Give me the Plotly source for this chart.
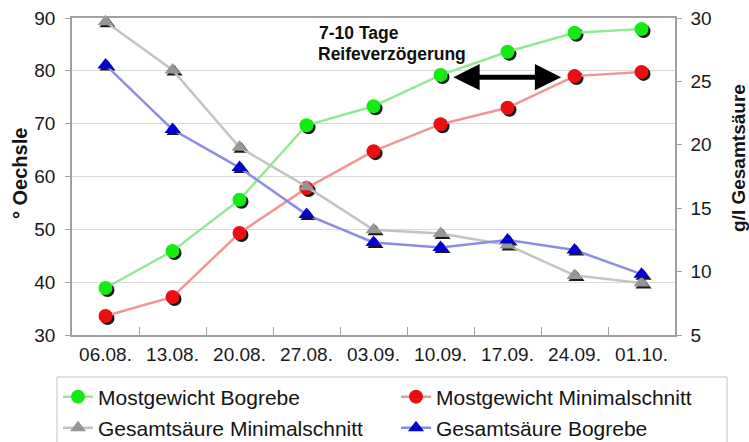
import plotly.graph_objects as go

# Sampling dates (category axis)
dates = ["06.08.", "13.08.", "20.08.", "27.08.", "03.09.", "10.09.", "17.09.", "24.09.", "01.10."]

# Must weight in degrees Oechsle (left axis)
mostgewicht_bogrebe = [38.9, 45.9, 55.6, 69.7, 73.3, 79.2, 83.6, 87.2, 87.9]
mostgewicht_minimalschnitt = [33.6, 37.2, 49.3, 57.8, 64.8, 69.9, 73.0, 79.0, 79.8]

# Total acidity in g/l (right axis)
gesamtsaeure_minimalschnitt = [29.7, 25.9, 19.8, 16.7, 13.3, 13.0, 12.1, 9.7, 9.1]
gesamtsaeure_bogrebe = [26.3, 21.2, 18.2, 14.5, 12.3, 11.9, 12.5, 11.7, 9.8]

oechsle_ticks = [30, 40, 50, 60, 70, 80, 90]
saeure_ticks = [5, 10, 15, 20, 25, 30]

# Page and plot-area geometry (pixels)
W, H = 749, 442
L, T, R, B = 72, 18, 74, 107
PW, PH = W - L - R, H - T - B
SHADOW = 2  # marker drop-shadow offset in px

FONT = "Liberation Sans, Arial, sans-serif"
AXIS_GREY = "rgb(160,160,160)"
GRID_GREY = "rgb(218,218,218)"


def px(x):
    return (x - L) / PW


def py(y):
    return (T + PH - y) / PH


x_range = [-0.5, len(dates) - 0.5]
y_left = [30, 90]
y_right = [5, 30]

# ranges for the shadow layer, shifted so marks land SHADOW px right/down
x_unit = (x_range[1] - x_range[0]) / PW
yl_unit = (y_left[1] - y_left[0]) / PH
yr_unit = (y_right[1] - y_right[0]) / PH
x_shadow = [x_range[0] - SHADOW * x_unit, x_range[1] - SHADOW * x_unit]
yl_shadow = [y_left[0] + SHADOW * yl_unit, y_left[1] + SHADOW * yl_unit]
yr_shadow = [y_right[0] + SHADOW * yr_unit, y_right[1] + SHADOW * yr_unit]

series = [
    # name, values, side, symbol, marker colour, line colour, legend slot (x, y px)
    ("Mostgewicht Bogrebe", mostgewicht_bogrebe, "left", "circle",
     "rgb(20,235,20)", "rgb(150,232,150)", "legend", (58, 397)),
    ("Mostgewicht Minimalschnitt", mostgewicht_minimalschnitt, "left", "circle",
     "rgb(235,15,15)", "rgb(240,150,150)", "legend2", (396, 397)),
    ("Gesamtsäure Minimalschnitt", gesamtsaeure_minimalschnitt, "right", "triangle-up",
     "rgb(150,150,150)", "rgb(195,195,195)", "legend3", (58, 428)),
    ("Gesamtsäure Bogrebe", gesamtsaeure_bogrebe, "right", "triangle-up",
     "rgb(0,0,210)", "rgb(140,140,230)", "legend4", (396, 428)),
]

fig = go.Figure()

# drop shadows (drawn first, underneath)
for name, vals, side, sym, mcol, lcol, leg, pos in series:
    fig.add_trace(go.Scatter(
        x=dates, y=vals, mode="markers", xaxis="x",
        yaxis="y" if side == "left" else "y4",
        marker=dict(symbol=sym, size=14, color="rgba(0,0,0,0.9)", line=dict(width=0)),
        showlegend=False, hoverinfo="skip", cliponaxis=False,
    ))

# data series
for name, vals, side, sym, mcol, lcol, leg, pos in series:
    fig.add_trace(go.Scatter(
        x=dates, y=vals, name=name, mode="lines+markers", xaxis="x2",
        yaxis="y2" if side == "left" else "y3",
        line=dict(color=lcol, width=2.5),
        marker=dict(symbol=sym, size=14, color=mcol, line=dict(width=0)),
        legend=leg, cliponaxis=False,
    ))

tickfont = dict(family=FONT, size=19, color="rgb(25,25,25)")
legend_font = dict(family=FONT, size=21, color="rgb(20,20,20)")

layout_legends = {}
for name, vals, side, sym, mcol, lcol, leg, pos in series:
    layout_legends[leg] = dict(
        orientation="h", x=px(pos[0]), y=py(pos[1]), xanchor="left", yanchor="middle",
        itemwidth=30, font=legend_font, bgcolor="rgba(0,0,0,0)", borderwidth=0,
    )

fig.update_layout(
    width=W, height=H,
    margin=dict(l=L, r=R, t=T, b=B, autoexpand=False),
    paper_bgcolor="white", plot_bgcolor="white",
    font=dict(family=FONT, color="rgb(20,20,20)"),
    # shadow layer axes (hidden)
    xaxis=dict(type="category", categoryarray=dates, range=x_shadow, visible=False),
    yaxis=dict(range=yl_shadow, visible=False),
    yaxis4=dict(range=yr_shadow, visible=False, overlaying="y", anchor="x"),
    # visible axes
    xaxis2=dict(
        type="category", categoryarray=dates, range=x_range, overlaying="x", anchor="y2",
        showline=True, linecolor=AXIS_GREY, linewidth=1.5, mirror=True,
        ticks="inside", tickson="boundaries", ticklen=8, tickcolor=AXIS_GREY, tickwidth=1,
        showgrid=False, tickfont=tickfont, ticklabelstandoff=1,
    ),
    yaxis2=dict(
        range=y_left, tickvals=oechsle_ticks, overlaying="y", anchor="x2",
        showline=True, linecolor=AXIS_GREY, linewidth=1.5,
        ticks="outside", ticklen=5, tickcolor=AXIS_GREY,
        showgrid=True, gridcolor=GRID_GREY, gridwidth=1, zeroline=False,
        tickfont=tickfont, ticklabelstandoff=6,
    ),
    yaxis3=dict(
        range=y_right, tickvals=saeure_ticks, overlaying="y", anchor="x2", side="right",
        showline=True, linecolor=AXIS_GREY, linewidth=1.5,
        ticks="outside", ticklen=5, tickcolor=AXIS_GREY,
        showgrid=False, zeroline=False, tickfont=tickfont, ticklabelstandoff=5,
    ),
    showlegend=True,
    **layout_legends,
)

# legend frame
fig.add_shape(type="rect", xref="paper", yref="paper",
              x0=px(57), x1=px(727), y0=py(444), y1=py(377),
              line=dict(color="rgb(195,195,195)", width=1), fillcolor="rgba(0,0,0,0)")

# axis titles
fig.add_annotation(text="° Oechsle", xref="paper", yref="paper", x=px(20), y=py(174),
                   showarrow=False, textangle=-90, xanchor="center", yanchor="middle",
                   font=dict(family=FONT, size=20, weight="bold", color="rgb(20,20,20)"))
fig.add_annotation(text="g/l Gesamtsäure", xref="paper", yref="paper", x=px(738), y=py(158),
                   showarrow=False, textangle=-90, xanchor="center", yanchor="middle",
                   font=dict(family=FONT, size=19, weight="bold", color="rgb(20,20,20)"))

# ripening delay note
note_font = dict(family=FONT, size=17.5, weight="bold", color="rgb(15,15,15)")
fig.add_annotation(text="7-10 Tage", xref="paper", yref="paper", x=px(317), y=py(33),
                   showarrow=False, xanchor="left", yanchor="middle", font=note_font)
fig.add_annotation(text="Reifeverzögerung", xref="paper", yref="paper", x=px(316), y=py(54),
                   showarrow=False, xanchor="left", yanchor="middle", font=note_font)

# double arrow between the two must-weight curves at the same level
i_start = dates.index("10.09.")
i_end = dates.index("24.09.")
arrow_level = 78.8
fig.add_annotation(
    x=i_end - 0.2, y=arrow_level, ax=i_start + 0.17, ay=arrow_level,
    xref="x2", yref="y2", axref="x2", ayref="y2", text="",
    showarrow=True, arrowside="end+start", arrowhead=2, startarrowhead=2,
    arrowwidth=5, arrowsize=1.05, startarrowsize=1.05, arrowcolor="black",
)

fig.write_html("out.html")
